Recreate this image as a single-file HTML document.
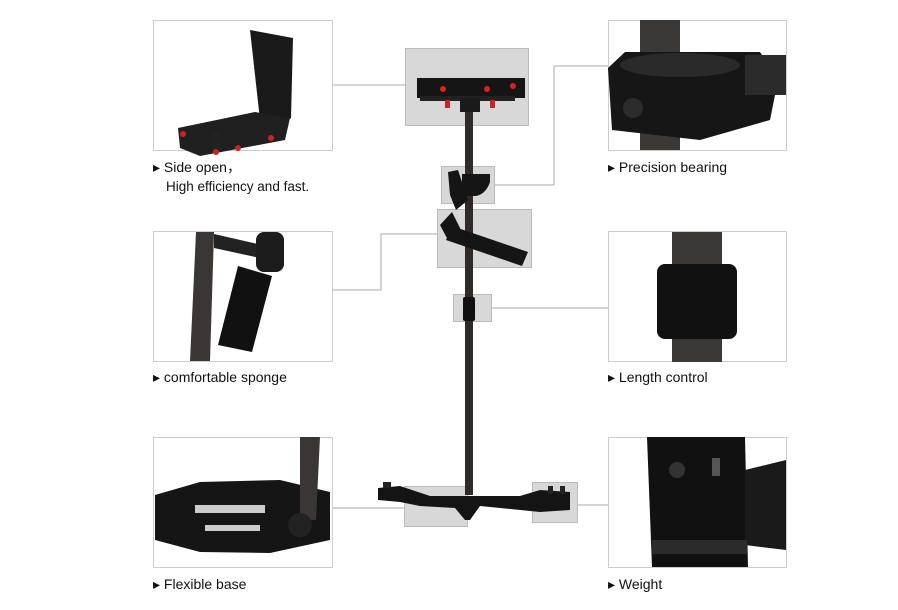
<!DOCTYPE html>
<html><head><style>
html,body{margin:0;padding:0;background:#fff;}
svg{display:block;}
text{font-family:"Liberation Sans",Arial,sans-serif;fill:#111;}
</style></head><body>
<svg width="898" height="610" viewBox="0 0 898 610" xmlns="http://www.w3.org/2000/svg">
<g fill="none" stroke="#aaa" stroke-width="1">
<polyline points="332,85 405,85"/>
<polyline points="495,185 554,185 554,66 608,66"/>
<polyline points="437,234 381,234 381,290 332,290"/>
<polyline points="491,308 608,308"/>
<polyline points="332,508 404,508"/>
<polyline points="577,505 608,505"/>
</g>
<!-- detail boxes -->
<g stroke="#ccc" fill="#fff">
<rect x="153.5" y="20.5" width="179" height="130"/>
<rect x="153.5" y="231.5" width="179" height="130"/>
<rect x="153.5" y="437.5" width="179" height="130"/>
<rect x="608.5" y="20.5" width="178" height="130"/>
<rect x="608.5" y="231.5" width="178" height="130"/>
<rect x="608.5" y="437.5" width="178" height="130"/>
</g>
<!-- top-left bracket -->
<polygon points="250,30 293,38 291,118 278,128 260,120" fill="#1a1a1a"/>
<polygon points="178,128 255,112 290,118 285,140 200,156 180,148" fill="#202020"/>
<rect x="212" y="132" width="8" height="20" fill="#222"/>
<circle cx="183" cy="134" r="3" fill="#c22"/><circle cx="216" cy="152" r="3" fill="#c22"/><circle cx="238" cy="148" r="3" fill="#c22"/><circle cx="271" cy="138" r="3" fill="#c22"/>
<!-- sponge -->
<polygon points="196,232 214,232 210,361 190,361" fill="#3a3636"/>
<polygon points="214,234 262,245 260,258 214,248" fill="#222"/>
<rect x="256" y="232" width="28" height="40" rx="8" fill="#1c1c1c"/>
<polygon points="238,266 272,276 252,352 218,345" fill="#111"/>
<!-- flexible base -->
<polygon points="155,495 200,482 280,480 330,492 330,540 270,553 200,552 155,540" fill="#151515"/>
<polygon points="300,437 320,437 316,520 300,520" fill="#3a3636"/>
<rect x="195" y="505" width="70" height="8" fill="#ccc"/><rect x="205" y="525" width="55" height="6" fill="#ccc"/>
<circle cx="300" cy="525" r="12" fill="#222"/>
<!-- bearing -->
<polygon points="640,20 680,20 680,150 640,150" fill="#3b3838"/>
<polygon points="608,68 625,52 760,52 778,80 770,120 700,140 612,130" fill="#161616"/>
<rect x="745" y="55" width="41" height="40" fill="#2b2b2b"/>
<ellipse cx="680" cy="65" rx="60" ry="12" fill="#2a2a2a"/>
<circle cx="633" cy="108" r="10" fill="#2c2c2c"/>
<!-- length -->
<rect x="672" y="232" width="50" height="130" fill="#3b3838"/>
<rect x="657" y="264" width="80" height="75" rx="8" fill="#111"/>
<!-- weight -->
<polygon points="647,437 745,437 748,567 652,567" fill="#111"/>
<polygon points="745,470 786,460 786,550 745,545" fill="#1a1a1a"/>
<circle cx="677" cy="470" r="8" fill="#333"/><rect x="712" y="458" width="8" height="18" fill="#555"/>
<rect x="652" y="540" width="95" height="14" fill="#2b2b2b"/>
<!-- center boxes -->
<g fill="#d8d8d8" stroke="#bbb">
<rect x="405.5" y="48.5" width="123" height="77"/>
<rect x="441.5" y="166.5" width="53" height="37"/>
<rect x="437.5" y="209.5" width="94" height="58"/>
<rect x="453.5" y="294.5" width="38" height="27"/>
<rect x="404.5" y="486.5" width="63" height="40"/>
<rect x="532.5" y="482.5" width="45" height="40"/>
</g>
<!-- pole -->
<rect x="465" y="110" width="8" height="385" fill="#2f2a28"/>
<!-- top plate -->
<rect x="417" y="78" width="108" height="20" fill="#151515"/>
<rect x="420" y="96" width="95" height="5" fill="#222"/>
<rect x="460" y="98" width="20" height="14" fill="#1a1a1a"/>
<circle cx="443" cy="89" r="3" fill="#d22"/><circle cx="487" cy="89" r="3" fill="#d22"/><circle cx="513" cy="86" r="3" fill="#d22"/>
<rect x="445" y="100" width="5" height="8" fill="#c22"/><rect x="490" y="100" width="5" height="8" fill="#c22"/>
<!-- bearing clamp / handle -->
<polygon points="448,172 458,170 468,200 456,210 450,195" fill="#151515"/>
<path d="M462,174 h28 v8 q-4,12 -14,14 h-14 z" fill="#151515"/>
<polygon points="440,225 452,212 462,232 448,240" fill="#151515"/>
<polygon points="452,226 528,252 522,266 446,240" fill="#151515"/>
<!-- length collar -->
<rect x="463" y="297" width="12" height="24" rx="2" fill="#111"/>
<!-- base -->
<polygon points="378,488 400,486 430,496 468,496 520,496 540,490 570,492 570,510 540,512 480,506 470,520 465,520 455,508 420,506 400,502 378,500" fill="#141414"/>
<rect x="383" y="482" width="8" height="6" fill="#222"/><rect x="548" y="486" width="5" height="8" fill="#222"/><rect x="560" y="486" width="5" height="8" fill="#222"/>
</g>
<!-- labels -->
<g font-size="14">
<text x="153" y="172">▸ Side open，</text>
<text x="166" y="191" font-size="13.5">High efficiency and fast.</text>
<text x="153" y="382">▸ comfortable  sponge</text>
<text x="153" y="589">▸ Flexible base</text>
<text x="608" y="172">▸ Precision bearing</text>
<text x="608" y="382">▸ Length control</text>
<text x="608" y="589">▸ Weight</text>
</g>
</svg>
</body></html>
